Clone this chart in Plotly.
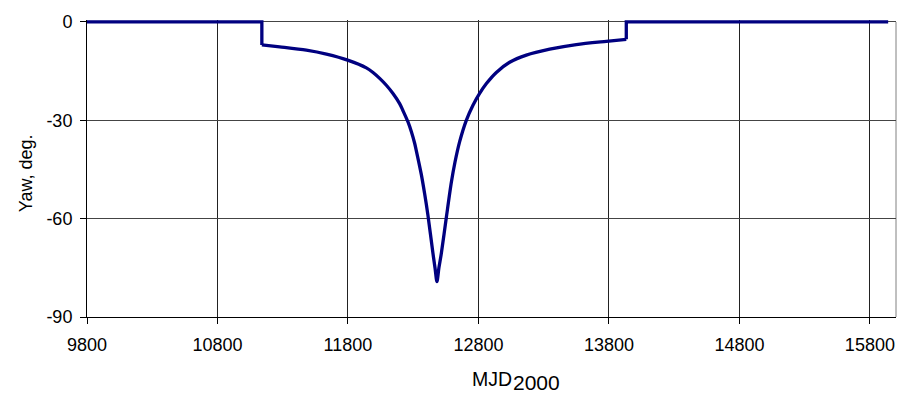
import plotly.graph_objects as go

# Yaw angle vs MJD2000
mjd = [9800, 11140, 11140, 11277, 11481, 11635, 11803, 11941, 11992, 12043,
       12094, 12145, 12196, 12221, 12260, 12286, 12311, 12324, 12362, 12388,
       12413, 12451, 12467, 12482, 12497, 12516, 12554, 12592, 12620, 12656,
       12707, 12758, 12809, 12861, 12937, 13039, 13167, 13346, 13550, 13780,
       13933, 13933, 15940]
yaw = [0, 0, -7.0, -7.6, -8.6, -9.8, -11.7, -14.0, -15.4, -17.2,
       -19.3, -21.8, -24.9, -27.0, -30.5, -33.5, -37.0, -39.3, -46.5, -52.5,
       -59.0, -70.5, -75.0, -79.2, -75.0, -70.5, -59.6, -49.0, -42.8, -36.5,
       -30.0, -25.4, -21.8, -18.8, -15.4, -12.3, -10.1, -8.3, -6.9, -5.9,
       -5.3, 0, 0]

x_ticks = [9800, 10800, 11800, 12800, 13800, 14800, 15800]
y_ticks = [-90, -60, -30, 0]

FONT = "Liberation Sans, Arial, sans-serif"
LINE = dict(color="#000080", width=3.3)

# split at the two step changes so the smooth part can be drawn as a spline
i1 = 2                  # first point after the first step
i2 = len(mjd) - 3       # last point before the second step

fig = go.Figure()
fig.add_trace(go.Scatter(x=mjd[:i1 + 1], y=yaw[:i1 + 1], mode="lines",
                         line=LINE, showlegend=False))
fig.add_trace(go.Scatter(x=mjd[i1:i2 + 1], y=yaw[i1:i2 + 1], mode="lines",
                         line=dict(LINE, shape="spline", smoothing=0.8),
                         showlegend=False))
fig.add_trace(go.Scatter(x=mjd[i2:], y=yaw[i2:], mode="lines",
                         line=LINE, showlegend=False))

fig.update_layout(
    width=914, height=396,
    margin=dict(l=87, r=18, t=13, b=79),
    paper_bgcolor="white", plot_bgcolor="white",
    font=dict(family=FONT, size=18, color="black"),
    xaxis=dict(range=[9800, 16000], tickvals=x_ticks,
               ticktext=[str(v) for v in x_ticks],
               showgrid=True, gridcolor="#222", gridwidth=1,
               showline=True, linecolor="black", linewidth=1,
               ticks="outside", ticklen=6, tickcolor="black",
               zeroline=False, ticklabelstandoff=5),
    yaxis=dict(range=[-90, 0.6], tickvals=y_ticks,
               ticktext=[str(v) for v in y_ticks],
               showgrid=True, gridcolor="#444", gridwidth=1,
               showline=True, linecolor="black", linewidth=1,
               ticks="outside", ticklen=6, tickcolor="black",
               zeroline=False, ticklabelstandoff=4),
    shapes=[
        dict(type="line", xref="paper", yref="y", x0=1, x1=1, y0=-90, y1=0,
             line=dict(color="#808080", width=1), layer="below"),
    ],
    annotations=[
        dict(text="Yaw, deg.", textangle=-90, xref="paper", yref="paper",
             x=-0.0758, y=0.483, xanchor="center", yanchor="middle",
             showarrow=False, font=dict(size=18)),
        dict(text="MJD", xref="paper", yref="paper",
             x=(470 - 87.3) / 809, y=(317 - 380.7) / 304,
             xanchor="left", yanchor="middle", showarrow=False,
             font=dict(size=19.5)),
        dict(text="2000", xref="paper", yref="paper",
             x=(511 - 87.3) / 809, y=(317 - 384) / 304,
             xanchor="left", yanchor="middle", showarrow=False,
             font=dict(size=21)),
    ],
)

fig.write_html("out.html")
